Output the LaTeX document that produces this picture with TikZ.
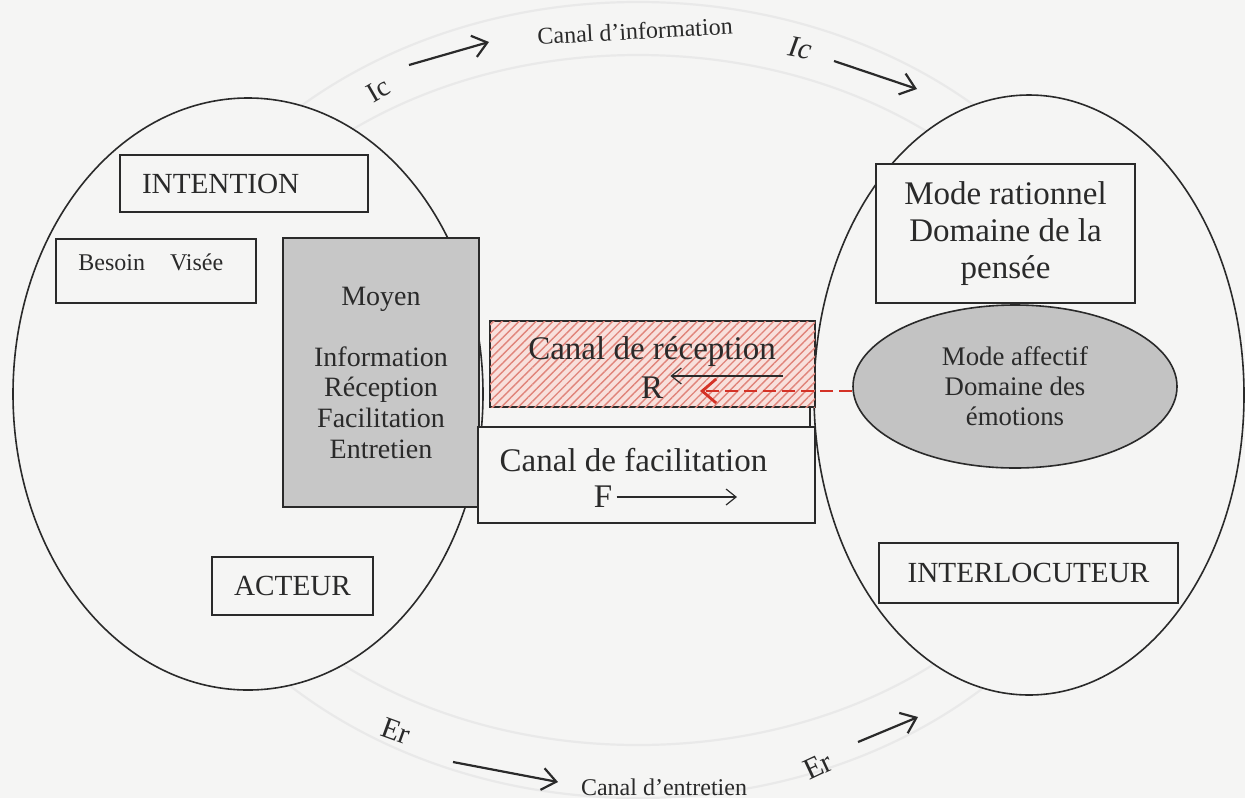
\documentclass[tikz,border=0pt]{standalone}
\usepackage{fontspec}
\setmainfont{Liberation Serif}
\usetikzlibrary{arrows.meta,patterns.meta,shapes.geometric}

\definecolor{paper}{RGB}{245,245,244}
\definecolor{ink}{RGB}{42,42,42}
\definecolor{moyenfill}{RGB}{199,199,199}
\definecolor{affectfill}{RGB}{195,195,195}
\definecolor{hatchbase}{RGB}{248,224,220}
\definecolor{hatchline}{RGB}{224,132,122}
\definecolor{dashred}{RGB}{212,50,38}
\definecolor{ringgray}{RGB}{233,233,233}

\tikzset{
  box/.style={draw=ink, line width=0.75pt, fill=paper, inner sep=0pt, text=ink},
  lbl/.style={text=ink, inner sep=0pt},
  bigtxt/.style={font=\fontsize{16.5}{18.5}\selectfont},
  capstxt/.style={font=\fontsize{14.6}{16.5}\selectfont},
  smalltxt/.style={font=\fontsize{12}{14}\selectfont},
  zone/.style={ellipse, draw=ink, line width=0.8pt, fill=paper, inner sep=0pt},
  flow/.style={draw=ink, line width=1.1pt, -{Straight Barb[length=7pt,width=11pt,line width=1.1pt]}},
  thinflow/.style={draw=ink, line width=0.6pt, -{Straight Barb[length=5pt,width=8pt,line width=0.6pt]}},
  emoflow/.style={draw=dashred, line width=1.4pt, dash pattern=on 6.5pt off 3pt,
    -{Straight Barb[length=7pt,width=12pt,line width=1.4pt]}}
}

\begin{document}
\begin{tikzpicture}[x=0.5pt,y=-0.5pt]
\useasboundingbox[fill=paper] (0,0) rectangle (1245,798);

% faint circular band carrying the channels
\draw[ringgray, line width=1.1pt] (638,400) ellipse [x radius=500, y radius=398];
\draw[ringgray, line width=1.1pt] (638,400) ellipse [x radius=460, y radius=345];

% the two partners
\node[zone, minimum width=235pt, minimum height=296pt] (acteurzone) at (248,394) {};
\node[zone, minimum width=215pt, minimum height=300pt] (interzone) at (1029,395) {};

% actor side
\node[box, capstxt, minimum width=124pt, minimum height=28.5pt,
      text width=102pt, align=left] (intention) at (244,183.5) {INTENTION};
\node[box, minimum width=100pt, minimum height=32pt] (besoinbox) at (156,271) {};
\node[lbl, smalltxt, anchor=base west] (besoin) at (78,270) {Besoin\hspace{12.5pt}Visée};
\node[box, capstxt, minimum width=80.5pt, minimum height=29pt] (acteur) at (292.5,586) {ACTEUR};

\node[box, fill=moyenfill, minimum width=98pt, minimum height=134.5pt, align=center,
      font=\fontsize{14}{15.3}\selectfont] (moyen) at (381,372.5)
      {Moyen\\[15.3pt]Information\\Réception\\Facilitation\\Entretien};

% reception and facilitation channels
\node[draw=ink, line width=0.75pt, fill=hatchbase, inner sep=0pt,
      postaction={pattern={Lines[angle=45,distance=3pt,line width=0.7pt]}, pattern color=hatchline},
      minimum width=162.5pt, minimum height=43pt] (recep) at (652.5,364) {};
\node[lbl, bigtxt] (receptxt) at (652,352) {Canal de réception};
\node[lbl, bigtxt] (rlabel) at (652,388) {R};
\coordinate (rstart) at (783,376);
\draw[thinflow, shorten >=3.5pt] (rstart) -- (rlabel.east |- rstart);

\coordinate (stubtop) at (810,407);
\node[box, minimum width=168.5pt, minimum height=48pt] (facil) at (646.5,475) {};
\draw[ink, line width=0.75pt] (stubtop) -- (stubtop |- facil.north);
\node[lbl, bigtxt] (faciltxt) at (633.5,460) {Canal de facilitation};
\node[lbl, bigtxt] (flabel) at (603,497) {F};
\coordinate (fend) at (737,497);
\draw[thinflow, shorten <=2pt] (flabel.east) -- (fend);

% interlocutor side
\node[box, bigtxt, align=center, minimum width=129.5pt, minimum height=69.5pt] (ratio)
      at (1005.5,233.5) {Mode rationnel\\Domaine de la\\pensée};
\node[zone, fill=affectfill, minimum width=162pt, minimum height=81.5pt, align=center,
      text=ink, font=\fontsize{13.4}{15}\selectfont] (affect) at (1015,386.5)
      {Mode affectif\\Domaine des\\émotions};
\node[box, capstxt, minimum width=149.5pt, minimum height=30pt] (interloc) at (1028.5,573) {INTERLOCUTEUR};

% emotional influence on reception
\coordinate (dashtip) at (700,391);
\draw[emoflow] (affect.west |- dashtip) -- (dashtip);

% information channel (top)
\node[lbl, smalltxt, rotate=3] (canalinfo) at (635,31) {Canal d’information};
\node[lbl, font=\fontsize{14}{16}\selectfont, rotate=30] (icleft) at (378,90) {Ic};
\coordinate (icla) at (409,65);
\coordinate (iclb) at (489,42);
\draw[flow] (icla) -- (iclb);
\node[lbl, font=\fontsize{15}{17}\selectfont\itshape, rotate=-10] (icright) at (800,48) {Ic};
\coordinate (icra) at (834,61);
\coordinate (icrb) at (917,89);
\draw[flow] (icra) -- (icrb);

% maintenance channel (bottom)
\node[lbl, smalltxt] (canalent) at (664,787) {Canal d’entretien};
\node[lbl, font=\fontsize{15}{17}\selectfont, rotate=-20] (erleft) at (396,731) {Er};
\coordinate (erla) at (453,762);
\coordinate (erlb) at (558,782);
\draw[flow] (erla) -- (erlb);
\node[lbl, font=\fontsize{15}{17}\selectfont, rotate=25] (erright) at (818,766) {Er};
\coordinate (erra) at (858,742);
\coordinate (errb) at (918,717);
\draw[flow] (erra) -- (errb);
\end{tikzpicture}
\end{document}
